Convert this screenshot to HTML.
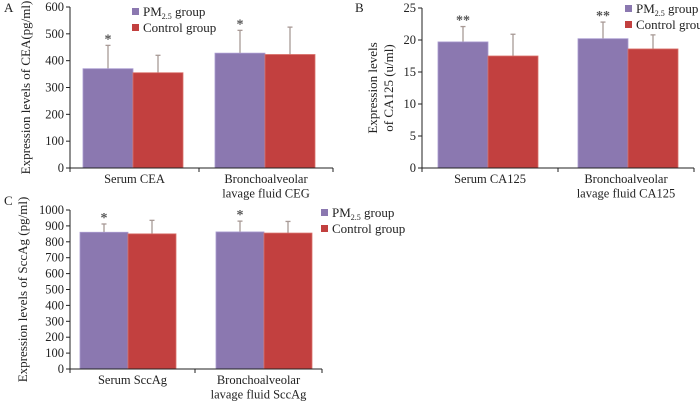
<!DOCTYPE html>
<html><head><meta charset="utf-8">
<style>
html,body{margin:0;padding:0;background:#fff;}
svg{display:block;font-family:"Liberation Serif",serif;}
</style></head>
<body>
<svg id="chart" width="700" height="401" viewBox="0 0 700 401" xmlns="http://www.w3.org/2000/svg"></svg>
<script>
const categoriesA = ["Serum CEA", "Bronchoalveolar|lavage fluid CEG"];
const pmA = [370, 428];
const ctrlA = [355, 423];
const pmErrA = [457, 513];
const ctrlErrA = [420, 525];
const sigA = ["*", "*"];
const ticksA = [0, 100, 200, 300, 400, 500, 600];

const categoriesB = ["Serum CA125", "Bronchoalveolar|lavage fluid CA125"];
const pmB = [19.7, 20.2];
const ctrlB = [17.5, 18.6];
const pmErrB = [22.1, 22.8];
const ctrlErrB = [20.9, 20.8];
const sigB = ["**", "**"];
const ticksB = [0, 5, 10, 15, 20, 25];

const categoriesC = ["Serum SccAg", "Bronchoalveolar|lavage fluid SccAg"];
const pmC = [860, 862];
const ctrlC = [850, 855];
const pmErrC = [912, 930];
const ctrlErrC = [935, 928];
const sigC = ["*", "*"];
const ticksC = [0, 100, 200, 300, 400, 500, 600, 700, 800, 900, 1000];

const NS = "http://www.w3.org/2000/svg";
const svg = document.getElementById("chart");
function mk(tag, attrs, parent, text) {
  const e = document.createElementNS(NS, tag);
  for (const k in attrs) e.setAttribute(k, attrs[k]);
  if (text !== undefined) e.textContent = text;
  (parent || svg).appendChild(e);
  return e;
}

function panel(cfg) {
  const g = mk("g", {});
  
  
  const max = cfg.ticks[cfg.ticks.length - 1];
  const y = v => cfg.y0 - (v / max) * (cfg.y0 - cfg.yTop);
  const letter = mk("text", {x: cfg.letterX, y: cfg.letterY, "font-size": 13, fill: "#222"}, g, cfg.letter);
  
  
  const bounds = [cfg.ax, cfg.mid, cfg.xEnd];
  cfg.cats.forEach((c, i) => {
    const left = bounds[i] + cfg.pads[i];
    const bw = cfg.bw;
    const series = [[cfg.pm[i], cfg.pmErr[i], "#8b78b0", "pm25"], [cfg.ctrl[i], cfg.ctrlErr[i], "#c2403f", "control"]];
    series.forEach((s, j) => {
      const bx = left + j * bw;
      const ex = bx + bw / 2;
      const err = mk("line", {x1: ex, x2: ex, y1: y(s[0]), y2: y(s[1]), stroke: "#a89a96", "stroke-width": 1.3}, g);
      
      
      const cap = mk("line", {x1: ex - 2.5, x2: ex + 2.5, y1: y(s[1]), y2: y(s[1]), stroke: "#a89a96", "stroke-width": 1.3}, g);
      
      
      const r = mk("rect", {x: bx, y: y(s[0]), width: bw, height: cfg.y0 - y(s[0]), fill: s[2], stroke: j ? "#d9706a" : "#a99bd0", "stroke-width": 0.8}, g);
      
      
    });
    const st = mk("text", {x: left + bw / 2, y: y(cfg.pmErr[i]) - 2, "font-size": 14, "font-weight": "bold", "text-anchor": "middle", fill: "#555"}, g, cfg.sig[i]);
    
    
    const lines = c.split("|");
    lines.forEach((ln, k) => {
      const t = mk("text", {x: (bounds[i] + bounds[i + 1]) / 2, y: cfg.y0 + 15 + k * 14.5, "font-size": 12.5, "text-anchor": "middle", fill: "#222"}, g, ln);
      
      
    });
  });
  const ya = mk("line", {x1: cfg.ax, x2: cfg.ax, y1: cfg.yTop, y2: cfg.y0, stroke: "#222", "stroke-width": 1}, g);
  
  
  const xa = mk("line", {x1: cfg.ax - 3, x2: cfg.xEnd, y1: cfg.y0, y2: cfg.y0, stroke: "#222", "stroke-width": 1}, g);
  
  
  bounds.forEach(tx => {
    const tk = mk("line", {x1: tx, x2: tx, y1: cfg.y0, y2: cfg.y0 + 4, stroke: "#222"}, g);
    
    
  });
  cfg.ticks.forEach(v => {
    const tk = mk("line", {x1: cfg.ax - 4, x2: cfg.ax, y1: y(v), y2: y(v), stroke: "#222"}, g);
    
    
    const tl = mk("text", {x: cfg.ax - 6, y: y(v) + 4, "font-size": 12.5, "text-anchor": "end", fill: "#222"}, g, String(v));
    
    
  });
  cfg.ytitle.forEach((t, k) => {
    const tt = mk("text", {x: 0, y: 0, "font-size": 13, "text-anchor": "middle", fill: "#222", transform: `translate(${cfg.ytx + k * 16},${(cfg.yTop + cfg.y0) / 2}) rotate(-90)`}, g, t);
    
    
  });
  [["#8b78b0", "pm25"], ["#c2403f", "control"]].forEach((l, k) => {
    const ly = cfg.legY + k * 16;
    const sq = mk("rect", {x: cfg.legX, y: ly - 4, width: 7, height: 7, fill: l[0]}, g);
    
    
    const t = mk("text", {x: cfg.legX + 11, y: ly + 4, "font-size": 13, fill: "#222"}, g);
    
    
    if (k === 0) {
      mk("tspan", {}, t, "PM");
      mk("tspan", {"font-size": 8, dy: 3}, t, "2.5");
      mk("tspan", {dy: -3}, t, " group");
    } else t.textContent = "Control group";
  });
}

panel({name: "panel-a-cea", letter: "A", letterX: 4, letterY: 12, ax: 70, mid: 199, xEnd: 333, y0: 168, yTop: 7,
  cats: categoriesA, pm: pmA, ctrl: ctrlA, pmErr: pmErrA, ctrlErr: ctrlErrA, sig: sigA, ticks: ticksA,
  pads: [13, 16], bw: 50, ytitle: ["Expression levels of CEA(pg/ml)"], ytx: 30, legX: 132, legY: 12});
panel({name: "panel-b-ca125", letter: "B", letterX: 355, letterY: 12, ax: 422, mid: 558, xEnd: 694, y0: 168, yTop: 8,
  cats: categoriesB, pm: pmB, ctrl: ctrlB, pmErr: pmErrB, ctrlErr: ctrlErrB, sig: sigB, ticks: ticksB,
  pads: [16, 20], bw: 50, ytitle: ["Expression levels", "of CA125 (u/ml)"], ytx: 377, legX: 625, legY: 9});
panel({name: "panel-c-sccag", letter: "C", letterX: 4, letterY: 205, ax: 70, mid: 195, xEnd: 322, y0: 369, yTop: 210,
  cats: categoriesC, pm: pmC, ctrl: ctrlC, pmErr: pmErrC, ctrlErr: ctrlErrC, sig: sigC, ticks: ticksC,
  pads: [10, 21], bw: 48, ytitle: ["Expression levels of SccAg (pg/ml)"], ytx: 27, legX: 321, legY: 213});
</script>
</body></html>
